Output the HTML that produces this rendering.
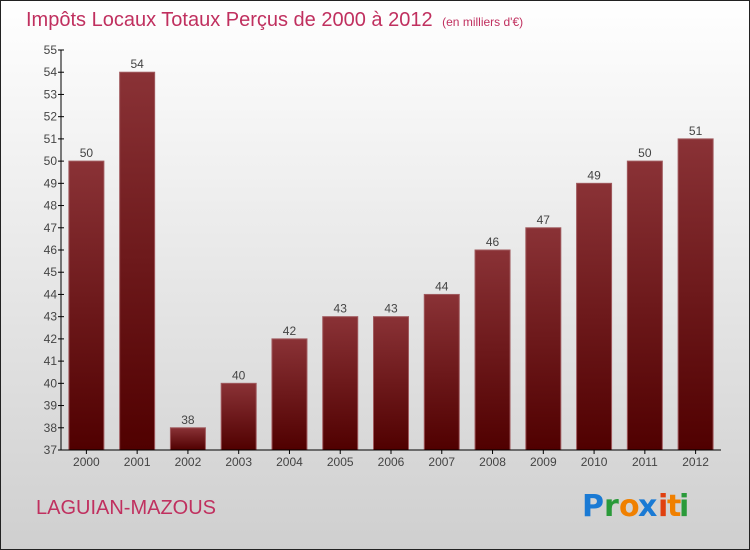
<!DOCTYPE html>
<html><head><meta charset="utf-8"><style>
body{margin:0}
svg{display:block;font-family:"Liberation Sans",sans-serif}
</style></head><body>
<svg width="750" height="550" id="c">
<defs>
<linearGradient id="bg" x1="0" y1="0" x2="0" y2="1"><stop offset="0" stop-color="#ffffff"/><stop offset="1" stop-color="#cfcfcf"/></linearGradient>
<linearGradient id="bar" x1="0" y1="0" x2="0" y2="1"><stop offset="0" stop-color="#8a3236"/><stop offset="1" stop-color="#500000"/></linearGradient>
</defs>
<rect x="0.5" y="0.5" width="749" height="549" fill="url(#bg)" stroke="#222"/>
<text x="26" y="26" font-size="20" fill="#c0305f">Impôts Locaux Totaux Perçus de 2000 à 2012 <tspan font-size="12" dx="4">(en milliers d'€)</tspan></text>
<g id="plot"></g>
<text x="36" y="514" font-size="20" fill="#c0305f">LAGUIAN-MAZOUS</text>
<g font-size="30" font-family="'DejaVu Sans',sans-serif" font-weight="bold">
<text x="582" y="516" fill="#1a7ad4">P</text><text x="604" y="516" fill="#2a9a3a">r</text><text x="619" y="516" fill="#f08000">o</text><text x="638" y="516" fill="#1a7ad4">x</text><text x="658" y="516" fill="#e04010">i</text><text x="667" y="516" fill="#f08000">t</text><text x="679" y="516" fill="#2a9a3a">i</text>
</g>
</svg>
<script>
const categories=["2000","2001","2002","2003","2004","2005","2006","2007","2008","2009","2010","2011","2012"];
const values=[50,54,38,40,42,43,43,44,46,47,49,50,51];
const yTicks=[37,38,39,40,41,42,43,44,45,46,47,48,49,50,51,52,53,54,55];
const NS="http://www.w3.org/2000/svg";
const g=document.getElementById("plot");
const x0=61,x1=721,yTop=50,yBot=450,ymin=37,ymax=55;
const band=(x1-x0)/categories.length;
const y=v=>yBot-(v-ymin)/(ymax-ymin)*(yBot-yTop);
const xc=i=>x0+band*(i+0.5);
function mk(t,a,txt){const e=document.createElementNS(NS,t);for(const k in a)e.setAttribute(k,a[k]);if(txt!==undefined)e.textContent=txt;g.appendChild(e);return e;}
values.forEach((v,i)=>{
 const r=mk("rect",{x:xc(i)-17.5,y:y(v),width:35,height:yBot-y(v),fill:"url(#bar)",stroke:"#a05a5e","stroke-width":1});
 
 
 const l=mk("text",{x:xc(i),y:y(v)-4,"text-anchor":"middle","font-size":12,fill:"#444"},String(v));
 
 
 const t=mk("text",{x:xc(i),y:yBot+16,"text-anchor":"middle","font-size":12,fill:"#444"},categories[i]);
 
 
 mk("line",{x1:xc(i),x2:xc(i),y1:yBot,y2:yBot+4,stroke:"#000"});
});
yTicks.forEach(v=>{
 mk("line",{x1:x0-3,x2:x0+3,y1:y(v),y2:y(v),stroke:"#000"});
 const t=mk("text",{x:x0-4,y:y(v)+4,"text-anchor":"end","font-size":12,fill:"#444"},String(v));
 
 
});
const ya=mk("line",{x1:x0,x2:x0,y1:yTop,y2:yBot,stroke:"#000"});


const xa=mk("line",{x1:x0,x2:x1,y1:yBot,y2:yBot,stroke:"#000"});


</script>
</body></html>
